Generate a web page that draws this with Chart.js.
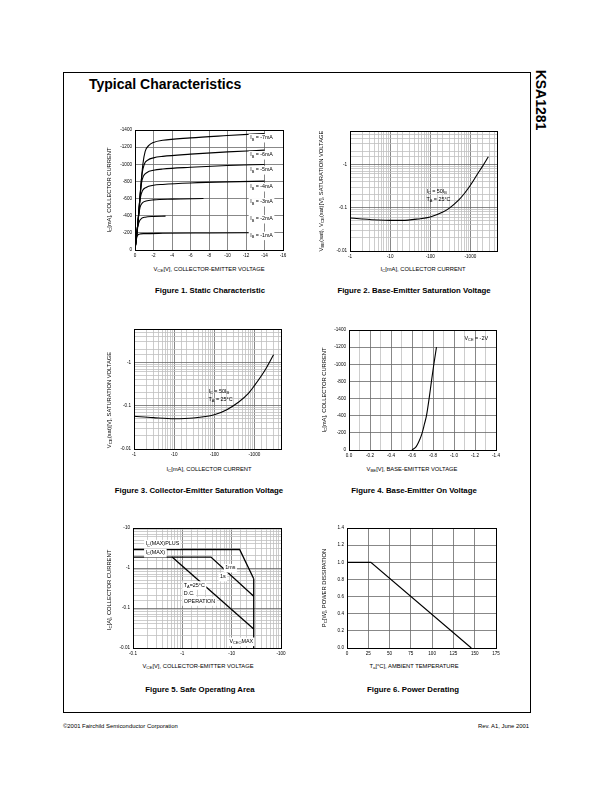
<!DOCTYPE html>
<html>
<head>
<meta charset="utf-8">
<script src="https://cdn.jsdelivr.net/npm/chart.js@4.4.0/dist/chart.umd.min.js"></script>
<style>
body { margin: 0; width: 612px; height: 792px; background: #fff; position: relative; overflow: hidden;
       font-family: "Liberation Sans", Arial, sans-serif; color: #000; }
.abs { position: absolute; white-space: nowrap; }
#frame { position: absolute; left: 63px; top: 72px; width: 466px; height: 639px; border: 1px solid #000; }
#title { left: 89px; top: 77px; font-size: 14px; font-weight: bold; line-height: 1; }
#part { left: 541px; top: 100px; font-size: 14px; font-weight: bold; transform: translate(-50%, -50%) rotate(90deg); }
.ax { font-size: 5.8px; line-height: 1; transform: translate(-50%, -50%); }
.ay { font-size: 5.8px; line-height: 1; transform: translate(-50%, -50%) rotate(-90deg); }
.cap { font-size: 7.8px; font-weight: bold; line-height: 1; transform: translate(-50%, -50%); }
.foot { font-size: 5.9px; top: 724px; line-height: 1; }
sub { font-size: 0.75em; vertical-align: -0.3em; line-height: 0; }
</style>
</head>
<body>
<div id="frame"></div>
<div class="abs" id="title">Typical Characteristics</div>
<div class="abs" id="part">KSA1281</div>

<canvas id="c1" class="abs"></canvas>
<canvas id="c2" class="abs"></canvas>
<canvas id="c3" class="abs"></canvas>
<canvas id="c4" class="abs"></canvas>
<canvas id="c5" class="abs"></canvas>
<canvas id="c6" class="abs"></canvas>

<div class="abs ay" style="left:110px;top:190px">I<sub>C</sub>[mA], COLLECTOR CURRENT</div>
<div class="abs ax" style="left:209px;top:270px">V<sub>CE</sub>[V], COLLECTOR-EMITTER VOLTAGE</div>
<div class="abs cap" style="left:210px;top:291px">Figure 1. Static Characteristic</div>

<div class="abs ay" style="left:322px;top:191px">V<sub>BE</sub>(sat), V<sub>CE</sub>(sat)[V], SATURATION VOLTAGE</div>
<div class="abs ax" style="left:423px;top:270px">I<sub>C</sub>[mA], COLLECTOR CURRENT</div>
<div class="abs cap" style="left:414px;top:291px">Figure 2. Base-Emitter Saturation Voltage</div>

<div class="abs ay" style="left:110px;top:400px">V<sub>CE</sub>(sat)[V], SATURATION VOLTAGE</div>
<div class="abs ax" style="left:209px;top:470px">I<sub>C</sub>[mA], COLLECTOR CURRENT</div>
<div class="abs cap" style="left:199px;top:491px">Figure 3. Collector-Emitter Saturation Voltage</div>

<div class="abs ay" style="left:325px;top:390px">I<sub>C</sub>[mA], COLLECTOR CURRENT</div>
<div class="abs ax" style="left:412px;top:470px">V<sub>BE</sub>[V], BASE-EMITTER VOLTAGE</div>
<div class="abs cap" style="left:414px;top:491px">Figure 4. Base-Emitter On Voltage</div>

<div class="abs ay" style="left:110px;top:590px">I<sub>C</sub>[A], COLLECTOR CURRENT</div>
<div class="abs ax" style="left:198px;top:667px">V<sub>CE</sub>[V], COLLECTOR-EMITTER VOLTAGE</div>
<div class="abs cap" style="left:200px;top:690px">Figure 5. Safe Operating Area</div>

<div class="abs ay" style="left:325px;top:588px">P<sub>C</sub>[W], POWER DISSIPATION</div>
<div class="abs ax" style="left:414px;top:667px">T<sub>a</sub>[°C], AMBIENT TEMPERATURE</div>
<div class="abs cap" style="left:413px;top:690px">Figure 6. Power Derating</div>

<div class="abs foot" style="left:63px">©2001 Fairchild Semiconductor Corporation</div>
<div class="abs foot" style="right:83px">Rev. A1, June 2001</div>

<script>
// ---- Figure 1: static characteristic (|VCE| V, |IC| mA)
const f1XTicks = [0, 2, 4, 6, 8, 10, 12, 14, 16];
const f1XLabels = ['0', '-2', '-4', '-6', '-8', '-10', '-12', '-14', '-16'];
const f1YTicks = [0, 200, 400, 600, 800, 1000, 1200, 1400];
const f1YLabels = ['0', '-200', '-400', '-600', '-800', '-1000', '-1200', '-1400'];
const f1Ib = ['-1mA', '-2mA', '-3mA', '-4mA', '-5mA', '-6mA', '-7mA'];
const f1Ib1 = [[0,0],[0.1,90],[0.2,150],[0.35,178],[0.6,188],[1,191],[3,195],[8,199],[14,203]];
const f1Ib2 = [[0,0],[0.2,180],[0.3,270],[0.45,330],[0.7,368],[1.1,383],[2,391],[3.3,395]];
const f1Ib3 = [[0,0],[0.25,250],[0.4,400],[0.55,500],[0.8,550],[1.2,572],[2,585],[4,594],[7.4,600]];
const f1Ib4 = [[0,0],[0.3,300],[0.45,480],[0.6,620],[0.8,690],[1.2,730],[2,755],[3,765],[6,782],[10,795],[14,803]];
const f1Ib5 = [[0,0],[0.3,300],[0.5,560],[0.7,780],[0.9,860],[1.3,905],[2,930],[3,945],[6,965],[10,985],[14,998]];
const f1Ib6 = [[0,0],[0.3,300],[0.55,640],[0.75,880],[1.0,1000],[1.4,1050],[2,1075],[3,1092],[6,1118],[10,1145],[14,1165]];
const f1Ib7 = [[0,0],[0.3,300],[0.6,700],[0.85,1000],[1.1,1150],[1.5,1220],[2,1255],[3,1280],[6,1308],[10,1335],[14,1360]];

// ---- Figure 2: base-emitter saturation voltage (|IC| mA, V)
const f2XTicks = [1, 10, 100, 1000];
const f2XLabels = ['-1', '-10', '-100', '-1000'];
const f2YTicks = [0.01, 0.1, 1];
const f2YLabels = ['-0.01', '-0.1', '-1'];
const f2Vsat = [[1,0.058],[2,0.055],[5,0.052],[10,0.051],[20,0.051],[50,0.055],[100,0.061],[200,0.078],
                [300,0.098],[500,0.147],[700,0.21],[1000,0.33],[1500,0.6],[2000,0.9],[2800,1.5]];

// ---- Figure 3: collector-emitter saturation voltage
const f3XTicks = [1, 10, 100, 1000];
const f3XLabels = ['-1', '-10', '-100', '-1000'];
const f3YTicks = [0.01, 0.1, 1];
const f3YLabels = ['-0.01', '-0.1', '-1'];
const f3Vsat = [[1,0.057],[3,0.053],[10,0.05],[30,0.052],[100,0.062],[200,0.08],[400,0.12],
                [700,0.19],[1000,0.29],[1800,0.64],[3000,1.5]];

// ---- Figure 4: base-emitter on voltage (|VBE| V, |IC| mA)
const f4XTicks = [0, 0.2, 0.4, 0.6, 0.8, 1.0, 1.2, 1.4];
const f4XLabels = ['0.0', '-0.2', '-0.4', '-0.6', '-0.8', '-1.0', '-1.2', '-1.4'];
const f4YTicks = [0, 200, 400, 600, 800, 1000, 1200, 1400];
const f4YLabels = ['0', '-200', '-400', '-600', '-800', '-1000', '-1200', '-1400'];
const f4Ic = [[0.6,0],[0.64,40],[0.67,110],[0.697,200],[0.72,310],[0.738,400],[0.763,600],[0.785,800],[0.808,1000],[0.833,1200]];

// ---- Figure 5: safe operating area (|VCE| V, |IC| A)
const f5XTicks = [0.1, 1, 10, 100];
const f5XLabels = ['-0.1', '-1', '-10', '-100'];
const f5YTicks = [0.01, 0.1, 1, 10];
const f5YLabels = ['-0.01', '-0.1', '-1', '-10'];
const f5Pulse1ms = [[0.1,2.9],[14.5,2.9],[28,0.54]];
const f5Pulse1s = [[0.1,1.88],[3.8,1.88],[28,0.196]];
const f5Dc = [[0.62,1.88],[28,0.03]];
const f5VceoMax = [[28,0.54],[28,0.01]];

// ---- Figure 6: power derating
const f6XTicks = [0, 25, 50, 75, 100, 125, 150, 175];
const f6XLabels = ['0', '25', '50', '75', '100', '125', '150', '175'];
const f6YTicks = [0, 0.2, 0.4, 0.6, 0.8, 1.0, 1.2, 1.4];
const f6YLabels = ['0.0', '0.2', '0.4', '0.6', '0.8', '1.0', '1.2', '1.4'];
const f6Pc = [[0,1.0],[28,1.0],[146,0]];

const PL = 26, PT = 6, PR = 8, PB = 10;
const TICK_FONT = { family: 'Liberation Sans', size: 4.6 };

function findLabel(v, ticks, labels, log) {
    for (let i = 0; i < ticks.length; i++) {
        const t = ticks[i];
        if (log ? Math.abs(v / t - 1) < 1e-6 : Math.abs(v - t) < 1e-6) return labels[i];
    }
    return '';
}

function axis(pos, type, min, max, ticks, labels, step) {
    const log = type === 'logarithmic';
    const a = {
        type: type, position: pos, min: min, max: max,
        border: { display: false },
        grid: {
            drawTicks: false, lineWidth: 0.8,
            color: function (ctx) {
                if (!ctx.tick) return '#777';
                return findLabel(ctx.tick.value, ticks, labels, log) !== '' ? '#6a6a6a' : '#c0c0c0';
            }
        },
        ticks: {
            autoSkip: false, maxRotation: 0, minRotation: 0, padding: 3, color: '#000', font: TICK_FONT,
            callback: function (v) { return findLabel(v, ticks, labels, log); }
        },
        afterFit: function (scale) {
            if (pos === 'left') scale.width = PL; else scale.height = PB;
        }
    };
    if (step) a.ticks.stepSize = step;
    return a;
}

function pts(arr) {
    return arr.map(function (p) { return { x: p[0], y: p[1] }; });
}

function line(arr, smooth, width) {
    return {
        data: pts(arr), showLine: true, borderColor: '#000', borderWidth: width || 1.1,
        pointRadius: 0, tension: smooth ? 0.4 : 0,
        cubicInterpolationMode: smooth ? 'monotone' : 'default'
    };
}

function drawRich(ctx, str, x, y, size, align, bg) {
    const segs = str.split(/_\{([^}]*)\}/);
    const widths = [];
    let total = 0;
    segs.forEach(function (s, i) {
        ctx.font = (i % 2 ? size * 0.72 : size) + 'px "Liberation Sans"';
        const w = ctx.measureText(s).width;
        widths.push(w);
        total += w;
    });
    let cx = align === 'center' ? x - total / 2 : (align === 'right' ? x - total : x);
    if (bg) {
        ctx.fillStyle = '#fff';
        ctx.fillRect(cx - 1.5, y - size * 0.75, total + 3, size * 1.6);
    }
    ctx.textBaseline = 'middle';
    ctx.textAlign = 'left';
    ctx.fillStyle = '#000';
    segs.forEach(function (s, i) {
        ctx.font = (i % 2 ? size * 0.72 : size) + 'px "Liberation Sans"';
        ctx.fillText(s, cx, i % 2 ? y + size * 0.3 : y);
        cx += widths[i];
    });
}

const framePlugin = {
    id: 'frame',
    afterDatasetsDraw: function (chart, args, opts) {
        const ctx = chart.ctx, a = chart.chartArea;
        ctx.save();
        (opts.notes || []).forEach(function (n) {
            const x = chart.scales.x.getPixelForValue(n.x);
            const y = chart.scales.y.getPixelForValue(n.y);
            drawRich(ctx, n.text, x, y, n.size || 5.4, n.align || 'left', n.bg);
        });
        ctx.strokeStyle = '#000';
        ctx.lineWidth = 1;
        ctx.strokeRect(Math.round(a.left) + 0.5, Math.round(a.top) + 0.5,
                       Math.round(a.right - a.left), Math.round(a.bottom - a.top));
        ctx.restore();
    }
};
Chart.register(framePlugin);

function makeChart(id, box, xAxis, yAxis, datasets, notes) {
    const c = document.getElementById(id);
    c.width = box[2] + PL + PR;
    c.height = box[3] + PT + PB;
    c.style.left = (box[0] - PL) + 'px';
    c.style.top = (box[1] - PT) + 'px';
    return new Chart(c, {
        type: 'scatter',
        data: { datasets: datasets },
        options: {
            responsive: false, animation: false, devicePixelRatio: 1,
            layout: { autoPadding: false, padding: { top: PT, right: PR, left: 0, bottom: 0 } },
            plugins: { legend: { display: false }, tooltip: { enabled: false }, frame: { notes: notes } },
            scales: { x: xAxis, y: yAxis }
        }
    });
}

// Figure 1
const f1Curves = [f1Ib1, f1Ib2, f1Ib3, f1Ib4, f1Ib5, f1Ib6, f1Ib7];
const f1NoteY = [168, 362, 560, 735, 933, 1108, 1307];
makeChart('c1', [135, 130, 148, 120],
    axis('bottom', 'linear', 0, 16, f1XTicks, f1XLabels, 2),
    axis('left', 'linear', 0, 1400, f1YTicks, f1YLabels, 200),
    f1Curves.map(function (c) { return line(c, true, 1.1); }),
    f1Ib.map(function (ib, i) { return { x: 12.45, y: f1NoteY[i], text: 'I_{B} = ' + ib, size: 5.3, bg: true }; }));

// Figure 2
makeChart('c2', [350, 131, 147, 120],
    axis('bottom', 'logarithmic', 1, 4600, f2XTicks, f2XLabels),
    axis('left', 'logarithmic', 0.01, 5.9, f2YTicks, f2YLabels),
    [line(f2Vsat, true, 1.1)],
    [{ x: 80, y: 0.235, text: 'I_{C} = 50I_{B}' }, { x: 80, y: 0.154, text: 'T_{A} = 25°C' }]);

// Figure 3
makeChart('c3', [134, 329, 147, 120],
    axis('bottom', 'logarithmic', 1, 4600, f3XTicks, f3XLabels),
    axis('left', 'logarithmic', 0.01, 5.9, f3YTicks, f3YLabels),
    [line(f3Vsat, true, 1.1)],
    [{ x: 72, y: 0.21, text: 'I_{C} = 50I_{B}' }, { x: 72, y: 0.138, text: 'T_{A} = 25°C' }]);

// Figure 4
makeChart('c4', [349, 330, 147, 120],
    axis('bottom', 'linear', 0, 1.4, f4XTicks, f4XLabels, 0.1),
    axis('left', 'linear', 0, 1400, f4YTicks, f4YLabels, 200),
    [line(f4Ic, true, 1.1)],
    [{ x: 1.1, y: 1300, text: 'V_{CE} = -2V' }]);

// Figure 5
makeChart('c5', [133, 528, 148, 120],
    axis('bottom', 'logarithmic', 0.1, 100, f5XTicks, f5XLabels),
    axis('left', 'logarithmic', 0.01, 10, f5YTicks, f5YLabels),
    [line(f5Pulse1ms, false, 1.3), line(f5Pulse1s, false, 1.3), line(f5Dc, false, 1.3), line(f5VceoMax, false, 1.3)],
    [{ x: 0.18, y: 4.0, text: 'I_{C}(MAX)PLUS', bg: true },
     { x: 0.18, y: 2.4, text: 'I_{C}(MAX)', bg: true },
     { x: 7.4, y: 1.0, text: '1ms', bg: true },
     { x: 5.8, y: 0.6, text: '1s', bg: true },
     { x: 1.07, y: 0.37, text: 'T_{A}=25°C', bg: true },
     { x: 1.07, y: 0.235, text: 'D.C.', bg: true },
     { x: 1.07, y: 0.148, text: 'OPERATION', bg: true },
     { x: 9.0, y: 0.0145, text: 'V_{CEO}MAX', bg: true }]);

// Figure 6
makeChart('c6', [347, 528, 149, 120],
    axis('bottom', 'linear', 0, 175, f6XTicks, f6XLabels, 25),
    axis('left', 'linear', 0, 1.4, f6YTicks, f6YLabels, 0.2),
    [line(f6Pc, false, 1.2)],
    []);
</script>
</body>
</html>
